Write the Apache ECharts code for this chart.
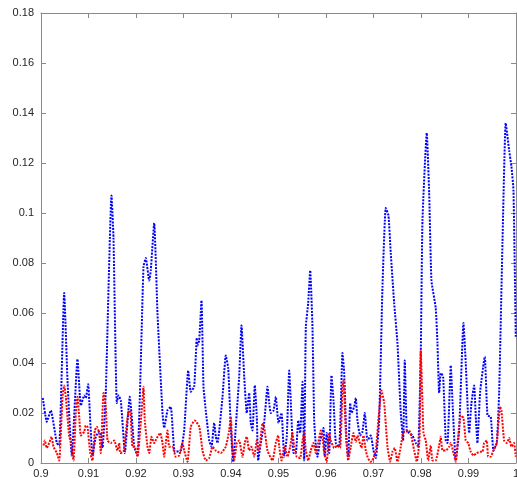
<!DOCTYPE html>
<html>
<head>
<meta charset="utf-8">
<script src="https://cdn.jsdelivr.net/npm/echarts@6/dist/echarts.min.js"></script>
<style>
html,body{margin:0;padding:0;background:#fff;}
#chart{width:517px;height:478px;}
</style>
</head>
<body>
<div id="chart"></div>
<script>
// x positions and values for the blue series
const blueX = [0.90038,0.90122,0.90206,0.90333,0.90383,0.90488,0.90558,0.90648,0.90768,0.90817,0.90838,0.90909,0.90943,0.90994,0.91015,0.91084,0.91154,0.91225,0.91259,0.91295,0.91364,0.91484,0.91526,0.91596,0.91631,0.9168,0.91751,0.91764,0.91869,0.91905,0.91962,0.92031,0.92158,0.92206,0.92278,0.92311,0.92383,0.92452,0.92558,0.92593,0.92663,0.92732,0.92817,0.92943,0.93014,0.93099,0.93153,0.93225,0.9328,0.93295,0.9333,0.93379,0.93421,0.93469,0.93541,0.93589,0.93646,0.9368,0.93715,0.93821,0.9389,0.93941,0.93995,0.94046,0.94101,0.94172,0.94221,0.94278,0.94332,0.94383,0.94416,0.94452,0.94501,0.94543,0.94572,0.94627,0.94698,0.94768,0.94804,0.94837,0.94895,0.94943,0.95,0.95063,0.9512,0.95174,0.95225,0.95258,0.95315,0.95364,0.95415,0.95457,0.95505,0.95541,0.95575,0.95625,0.95667,0.95715,0.95751,0.95785,0.9582,0.95877,0.95947,0.95974,0.96016,0.96067,0.96115,0.96158,0.96206,0.96277,0.96347,0.96383,0.96431,0.96467,0.96509,0.96536,0.96593,0.96627,0.96662,0.96719,0.96768,0.96816,0.96873,0.96942,0.96999,0.97048,0.97119,0.97189,0.97258,0.97315,0.97363,0.97435,0.97504,0.97574,0.97624,0.97658,0.977,0.97751,0.9782,0.9789,0.9794,0.97995,0.98031,0.98121,0.98172,0.9822,0.9831,0.98346,0.98382,0.98416,0.98466,0.98521,0.98557,0.98627,0.98662,0.98732,0.98803,0.98894,0.98942,0.99014,0.99062,0.99119,0.99153,0.99188,0.99245,0.99342,0.99399,0.99468,0.99525,0.99595,0.99645,0.99715,0.99784,0.99856,0.99904,0.99947,0.99995];
const blueY = [0.026,0.0165,0.021,0.008,0.007,0.068,0.033,0.003,0.0415,0.027,0.023,0.027,0.026,0.0315,0.025,0.003,0.0105,0.0125,0.012,0.006,0.0285,0.107,0.09,0.024,0.027,0.025,0.0065,0.004,0.0265,0.02,0.0065,0.003,0.0785,0.082,0.073,0.077,0.096,0.06,0.02,0.014,0.021,0.0225,0.0045,0.005,0.013,0.037,0.0285,0.0305,0.05,0.047,0.049,0.065,0.0305,0.021,0.009,0.0065,0.016,0.0105,0.008,0.0265,0.043,0.038,0.0145,0.0005,0.0145,0.0345,0.055,0.0345,0.02,0.028,0.016,0.013,0.031,0.0185,0.001,0.008,0.016,0.0305,0.024,0.02,0.021,0.0265,0.016,0.02,0.0025,0.0105,0.037,0.025,0.004,0.004,0.017,0.012,0.0325,0.001,0.0545,0.064,0.077,0.0545,0.017,0.0072,0.0025,0.009,0.014,0.0025,0.012,0.004,0.035,0.025,0.008,0.0065,0.044,0.036,0.009,0.002,0.024,0.02,0.0225,0.026,0.017,0.011,0.0125,0.02,0.009,0.011,0.005,0.002,0.017,0.0705,0.102,0.099,0.084,0.064,0.048,0.02,0.009,0.041,0.013,0.012,0.011,0.008,0.0065,0.044,0.097,0.132,0.108,0.073,0.062,0.048,0.028,0.036,0.0345,0.009,0.008,0.039,0.025,0.001,0.013,0.056,0.04,0.012,0.024,0.031,0.0185,0.008,0.0285,0.0425,0.019,0.0185,0.005,0.008,0.028,0.088,0.136,0.125,0.1185,0.109,0.0505];

// x positions and values for the red series
const redX = [0.90053,0.9008,0.90122,0.90173,0.90221,0.90263,0.90333,0.90383,0.90453,0.90488,0.90522,0.90594,0.90627,0.90684,0.90733,0.90768,0.90804,0.90838,0.90909,0.90943,0.90979,0.91036,0.91084,0.91133,0.91175,0.91225,0.91259,0.91316,0.91364,0.914,0.91469,0.91541,0.9161,0.91646,0.91667,0.91737,0.91785,0.91836,0.91878,0.91926,0.91975,0.92031,0.92116,0.92158,0.92185,0.92242,0.92278,0.92326,0.92383,0.92438,0.92509,0.92558,0.92593,0.92627,0.92663,0.92699,0.92768,0.92838,0.92909,0.92979,0.93014,0.93084,0.93153,0.93237,0.93333,0.934,0.93469,0.93541,0.9361,0.9368,0.93785,0.9389,0.93962,0.93995,0.94031,0.94067,0.94122,0.94172,0.94242,0.9429,0.94332,0.94383,0.94431,0.94488,0.94543,0.94593,0.94663,0.94698,0.94768,0.94873,0.94943,0.94993,0.95015,0.95063,0.95133,0.95189,0.95246,0.95294,0.9533,0.95385,0.95457,0.95505,0.95541,0.95575,0.95625,0.95679,0.95736,0.95785,0.95835,0.9589,0.95926,0.95962,0.96016,0.96067,0.961,0.96172,0.96241,0.96298,0.96347,0.96368,0.96416,0.96467,0.96521,0.96578,0.96627,0.96662,0.96698,0.96747,0.96789,0.96837,0.96873,0.9693,0.96978,0.97048,0.97119,0.97168,0.97225,0.97294,0.97351,0.97399,0.97447,0.97504,0.97574,0.97631,0.97679,0.97751,0.97799,0.97856,0.97911,0.97968,0.97995,0.98031,0.98052,0.981,0.98151,0.98205,0.98241,0.9831,0.98382,0.98416,0.98452,0.98521,0.98593,0.98627,0.98683,0.98732,0.98782,0.98837,0.98894,0.98942,0.98993,0.99047,0.99104,0.99174,0.99245,0.99294,0.99329,0.99384,0.99414,0.99468,0.99525,0.99595,0.99666,0.99694,0.9975,0.99805,0.99856,0.99904,0.9996,0.99995];
const redY = [0.007,0.009,0.006,0.008,0.0105,0.0065,0.004,0.001,0.0265,0.031,0.0265,0.0105,0.009,0.001,0.02,0.0265,0.0185,0.011,0.0125,0.015,0.0145,0.004,0.001,0.013,0.0145,0.012,0.004,0.028,0.0225,0.009,0.008,0.009,0.005,0.008,0.004,0.0045,0.012,0.02,0.021,0.0065,0.0065,0.0025,0.02,0.0305,0.017,0.0065,0.004,0.0105,0.008,0.01,0.012,0.008,0.0025,0.008,0.013,0.0065,0.0065,0.0025,0.003,0.008,0.005,0.0005,0.0145,0.017,0.0145,0.005,0.001,0.002,0.0065,0.005,0.004,0.0065,0.013,0.0185,0.005,0.001,0.008,0.009,0.0025,0.008,0.0105,0.005,0.0065,0.0025,0.009,0.005,0.016,0.0145,0.005,0.001,0.008,0.011,0.0065,0.001,0.0065,0.0025,0.0065,0.012,0.0065,0.0025,0.002,0.009,0.012,0.005,0.001,0.005,0.008,0.004,0.008,0.013,0.0105,0.004,0.0005,0.012,0.009,0.006,0.007,0.006,0.0305,0.033,0.013,0.001,0.0065,0.012,0.0085,0.011,0.009,0.006,0.011,0.005,0.0025,0.0005,0.001,0.005,0.021,0.029,0.024,0.0065,0.0005,0.0045,0.006,0.0005,0.0065,0.0125,0.0125,0.013,0.0105,0.005,0.0005,0.009,0.045,0.024,0.012,0.009,0.001,0.007,0.001,0.001,0.007,0.0105,0.005,0.005,0.0065,0.008,0.004,0.0005,0.0105,0.019,0.018,0.009,0.008,0.0045,0.003,0.004,0.0045,0.0045,0.008,0.009,0.0025,0.0025,0.005,0.008,0.0225,0.021,0.009,0.008,0.01,0.0065,0.008,0.0025];

const xTicks = {min: 0.9, max: 1.0, step: 0.01};
const yTicks = {min: 0, max: 0.18, step: 0.02};

const zip = (xs, ys) => xs.map((x, i) => [x, ys[i]]);

const chart = echarts.init(document.getElementById('chart'), null, {renderer: 'canvas'});
const axisCol = '#8a8a8a';
const labelStyle = {color: '#262626', fontSize: 11, fontFamily: 'Liberation Sans, Arial, sans-serif'};
const xAxisBase = {
  type: 'value', min: xTicks.min, max: xTicks.max, interval: xTicks.step,
  axisLine: {show: true, onZero: false, lineStyle: {color: axisCol, width: 1}},
  axisTick: {show: true, inside: true, length: 5, lineStyle: {color: axisCol}},
  splitLine: {show: false}
};
const yAxisBase = {
  type: 'value', min: yTicks.min, max: yTicks.max, interval: yTicks.step,
  axisLine: {show: true, onZero: false, lineStyle: {color: axisCol, width: 1}},
  axisTick: {show: true, inside: true, length: 5, lineStyle: {color: axisCol}},
  splitLine: {show: false}
};
chart.setOption({
  animation: false,
  backgroundColor: '#fff',
  grid: {left: 41, right: 1, top: 13, bottom: 15, containLabel: false, outerBoundsMode: 'none'},
  xAxis: [
    Object.assign({}, xAxisBase, {position: 'bottom', axisLabel: Object.assign({margin: 5, hideOverlap: false, formatter: v => String(+v.toFixed(2))}, labelStyle)}),
    Object.assign({}, xAxisBase, {position: 'top', axisLabel: {show: false}})
  ],
  yAxis: [
    Object.assign({}, yAxisBase, {position: 'left', axisLabel: Object.assign({margin: 7, formatter: v => String(+v.toFixed(2))}, labelStyle)}),
    Object.assign({}, yAxisBase, {position: 'right', axisLabel: {show: false}})
  ],
  series: [
    {type: 'line', name: 'blue', data: zip(blueX, blueY), showSymbol: false, symbol: 'none', smooth: 0.15,
     lineStyle: {color: '#0000ff', width: 2, type: [2, 1.3]}, clip: true},
    {type: 'line', name: 'red', data: zip(redX, redY), showSymbol: false, symbol: 'none', smooth: 0.15,
     lineStyle: {color: '#ff0000', width: 2, type: [2, 1.3]}, clip: true}
  ]
});
</script>
</body>
</html>
